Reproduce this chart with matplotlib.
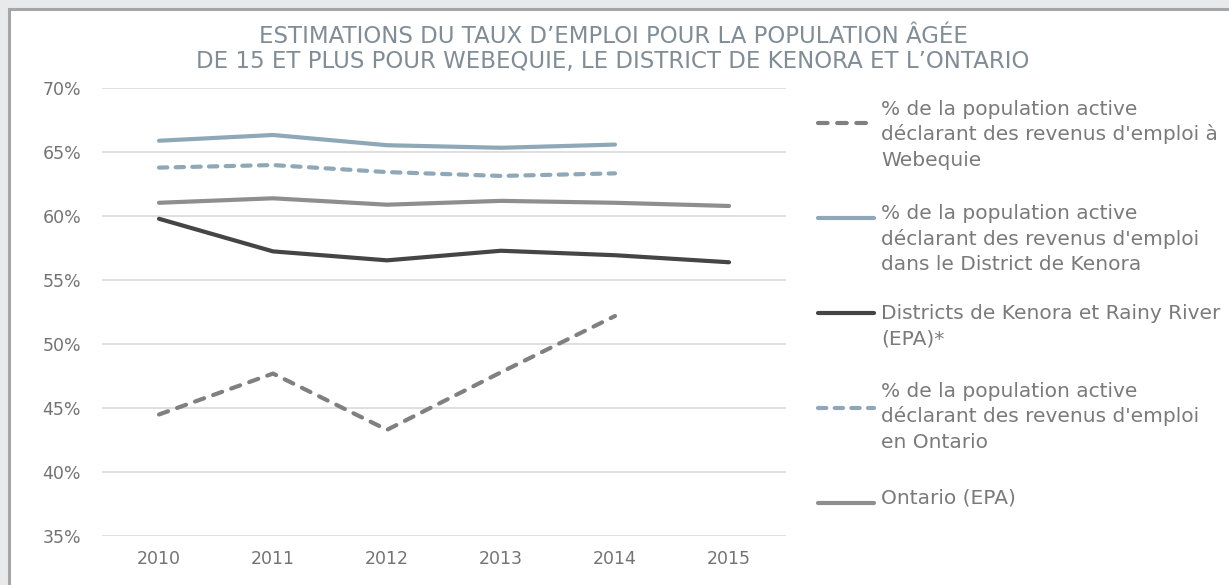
import matplotlib
matplotlib.use("Agg")
import matplotlib.pyplot as plt
from matplotlib.lines import Line2D
from matplotlib.patches import Rectangle

plt.rcParams['font.family'] = ['DejaVu Sans']

years = ["2010", "2011", "2012", "2013", "2014", "2015"]
webequie = [44.5, 47.7, 43.3, 47.8, 52.2, None]
kenora_district = [65.9, 66.35, 65.55, 65.35, 65.6, None]
kenora_rainy_epa = [59.8, 57.25, 56.55, 57.3, 56.95, 56.4]
ontario = [63.8, 64.0, 63.45, 63.15, 63.35, None]
ontario_epa = [61.05, 61.4, 60.9, 61.2, 61.05, 60.8]

labels = [
    "% de la population active\ndéclarant des revenus d'emploi à\nWebequie",
    "% de la population active\ndéclarant des revenus d'emploi\ndans le District de Kenora",
    "Districts de Kenora et Rainy River\n(EPA)*",
    "% de la population active\ndéclarant des revenus d'emploi\nen Ontario",
    "Ontario (EPA)",
]
title = ("ESTIMATIONS DU TAUX D\u2019EMPLOI POUR LA POPULATION ÂGÉE\n"
         "DE 15 ET PLUS POUR WEBEQUIE, LE DISTRICT DE KENORA ET L\u2019ONTARIO")
yticks = [35, 40, 45, 50, 55, 60, 65, 70]

W, H = 1229, 585
fig = plt.figure(figsize=(W / 100, H / 100), dpi=100)
fig.patch.set_facecolor('#e8e9eb')
fig.patches.append(Rectangle((9 / W, -0.1), 1.1, 1 - 9 / H + 0.1, transform=fig.transFigure,
                             facecolor='white', edgecolor='#a6a6a6', linewidth=2.2, zorder=-5))

ax = fig.add_axes([102 / W, 1 - 536 / H, (786 - 102) / W, (536 - 88.3) / H])
ax.set_facecolor('none')
ax.set_zorder(2)

styles = [
    dict(color='#808080', dashes=(2.3, 2.3)),
    dict(color='#8fa8b8'),
    dict(color='#454545'),
    dict(color='#8fa8b8', dashes=(2.0, 2.0)),
    dict(color='#8e8e90'),
]
series = [webequie, kenora_district, kenora_rainy_epa, ontario, ontario_epa]
order = [4, 2, 1, 3, 0]
lw = 3.0
for i in order:
    vals = series[i]
    xs = [k for k, v in enumerate(vals) if v is not None]
    ys = [v for v in vals if v is not None]
    st = styles[i]
    kw = dict(color=st['color'], lw=lw, solid_capstyle='round', dash_capstyle='round',
              solid_joinstyle='round')
    if 'dashes' in st:
        kw['dashes'] = st['dashes']
    ax.plot(xs, ys, **kw)

ax.set_xlim(-0.5, len(years) - 0.5)
ax.set_ylim(35, 70)
ax.set_yticks(yticks)
ax.set_yticklabels([f"{t}%" for t in yticks])
ax.set_xticks(range(len(years)))
ax.set_xticklabels(years)
ax.grid(axis='y', color='#d9d9d9', lw=1.2)
ax.set_axisbelow(True)
for s in ax.spines.values():
    s.set_visible(False)
ax.tick_params(axis='both', length=0, labelsize=12.5, colors='#737373')
ax.tick_params(axis='y', pad=15)
ax.tick_params(axis='x', pad=10)

fig.text(613 / W, 1 - 49 / H, title, ha='center', va='center', fontsize=16.5,
         color='#808d97', linespacing=1.13)

# legend (manual layout): first-line centre and handle position per entry
leg_first_line = [108, 212, 312, 390, 497]
leg_handle = [123, 218, 313, 408, 503]
pitch = 25.5
for j in range(5):
    st = styles[j]
    yh = 1 - leg_handle[j] / H
    kw = dict(color=st['color'], lw=lw, solid_capstyle='round', dash_capstyle='round',
              transform=fig.transFigure)
    if 'dashes' in st:
        kw['dashes'] = st['dashes']
    fig.lines.append(Line2D([818 / W, 874 / W], [yh, yh], **kw))
    for k, line in enumerate(labels[j].split("\n")):
        yb = leg_first_line[j] + k * pitch + 7
        fig.text(881 / W, 1 - yb / H, line, ha='left', va='baseline',
                 fontsize=14.5, color='#7a7a7a')

fig.savefig('out.png', dpi=100, facecolor=fig.get_facecolor())
